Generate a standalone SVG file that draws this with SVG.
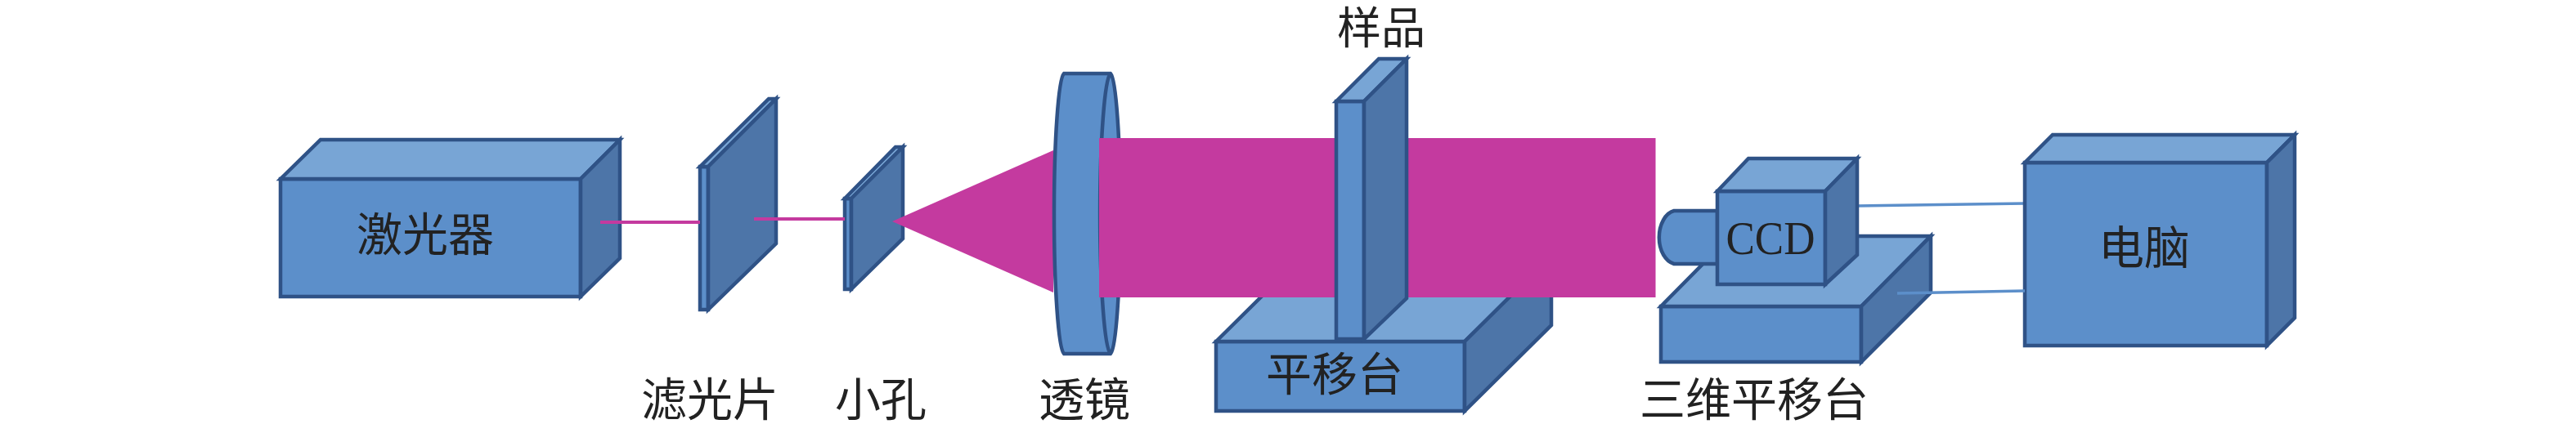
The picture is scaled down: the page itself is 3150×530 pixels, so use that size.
<svg xmlns="http://www.w3.org/2000/svg" width="3150" height="530" viewBox="0 0 3150 530">
<style>
.f{fill:#5c8fca}.t{fill:#78a5d5}.s{fill:#4d75a8}
.f,.t,.s,.e{stroke:#2f5286;stroke-width:4.5;stroke-linejoin:miter}
.e{fill:none}
.p{fill:#c43a9f}
.pl{stroke:#c43a9f;stroke-width:4;fill:none}
.bl{stroke:#5c8fca;stroke-width:3.5;fill:none}
text{font-family:"Noto Sans CJK SC","Noto Sans CJK TC",sans-serif;font-size:56px;fill:#222;text-anchor:middle}
text.l{font-family:"Liberation Serif",serif;font-size:57px}
</style>
<rect width="3150" height="530" fill="#fff"/>
<g id="laser">
<path class="f" d="M343 219H710V363H343Z"/><path class="t" d="M343 219L392 171H758L710 219Z"/><path class="s" d="M710 219L758 171V316L710 363Z"/>
<text x="520" y="307">激光器</text>
</g>
<g id="filter">
<path class="f" d="M856 204H866V379H856Z"/><path class="t" d="M856 204L940 121H949L866 204Z"/><path class="s" d="M866 204L949 121V298L866 379Z"/>
</g>
<g id="pinhole">
<path class="f" d="M1033 243H1041V354H1033Z"/><path class="t" d="M1033 243L1095 180H1104L1041 243Z"/><path class="s" d="M1041 243L1104 180V292L1041 354Z"/>
</g>
<g id="stage">
<path class="f" d="M1487 418H1791V503H1487Z"/><path class="t" d="M1487 418L1593 313H1897L1791 418Z"/><path class="s" d="M1791 418L1897 313V398L1791 503Z"/>
<text x="1632" y="478">平移台</text>
</g>
<g id="connectors">
<path class="pl" d="M734 272H856"/>
<path class="pl" d="M922 268H1033"/>
<path class="bl" d="M2271 252L2476 249"/>
</g>
<g id="beam-cone"><path class="p" d="M1091 271L1288 184V358Z"/></g>
<g id="lens">
<path class="f" d="M1301 90H1358A13 172 0 0 1 1358 433H1301A13 172 0 0 1 1301 90Z"/>
<path class="e" d="M1358 90A14 172 0 0 0 1358 433"/>
</g>
<g id="beam"><rect class="p" x="1344" y="169" width="680.500" height="195"/></g>
<g id="sample">
<path class="f" d="M1634 124H1668V415H1634Z"/><path class="t" d="M1634 124L1686 72H1720L1668 124Z"/><path class="s" d="M1668 124L1720 72V365L1668 415Z"/>
</g>
<g id="stage3d">
<path class="f" d="M2031 375H2276V443H2031Z"/><path class="t" d="M2031 375L2116 289H2361L2276 375Z"/><path class="s" d="M2276 375L2361 289V358L2276 443Z"/>
</g>
<g id="ccd">
<path class="f" d="M2100 258H2047A22 33 0 0 0 2047 323H2100Z"/>
<path class="f" d="M2100 234H2232V348H2100Z"/><path class="t" d="M2100 234L2138 194H2271L2232 234Z"/><path class="s" d="M2232 234L2271 194V312L2232 348Z"/>
<text class="l" x="2165" y="311" textLength="109" lengthAdjust="spacingAndGlyphs">CCD</text>
</g>
<g id="computer">
<path class="f" d="M2476 199H2772V423H2476Z"/><path class="t" d="M2476 199L2510 165H2806L2772 199Z"/><path class="s" d="M2772 199L2806 165V389L2772 423Z"/>
<text x="2622" y="323">电脑</text>
</g>
<g id="cable2"><path class="bl" d="M2320 359L2476 356"/></g>
<g id="labels">
<text id="label-filter" x="868" y="509">滤光片</text>
<text id="label-pinhole" x="1077" y="509">小孔</text>
<text id="label-lens" x="1326" y="509">透镜</text>
<text id="label-sample" x="1689" y="54" font-size="54" style="font-size:54px">样品</text>
<text id="label-stage3d" x="2145" y="509">三维平移台</text>
</g>
</svg>
